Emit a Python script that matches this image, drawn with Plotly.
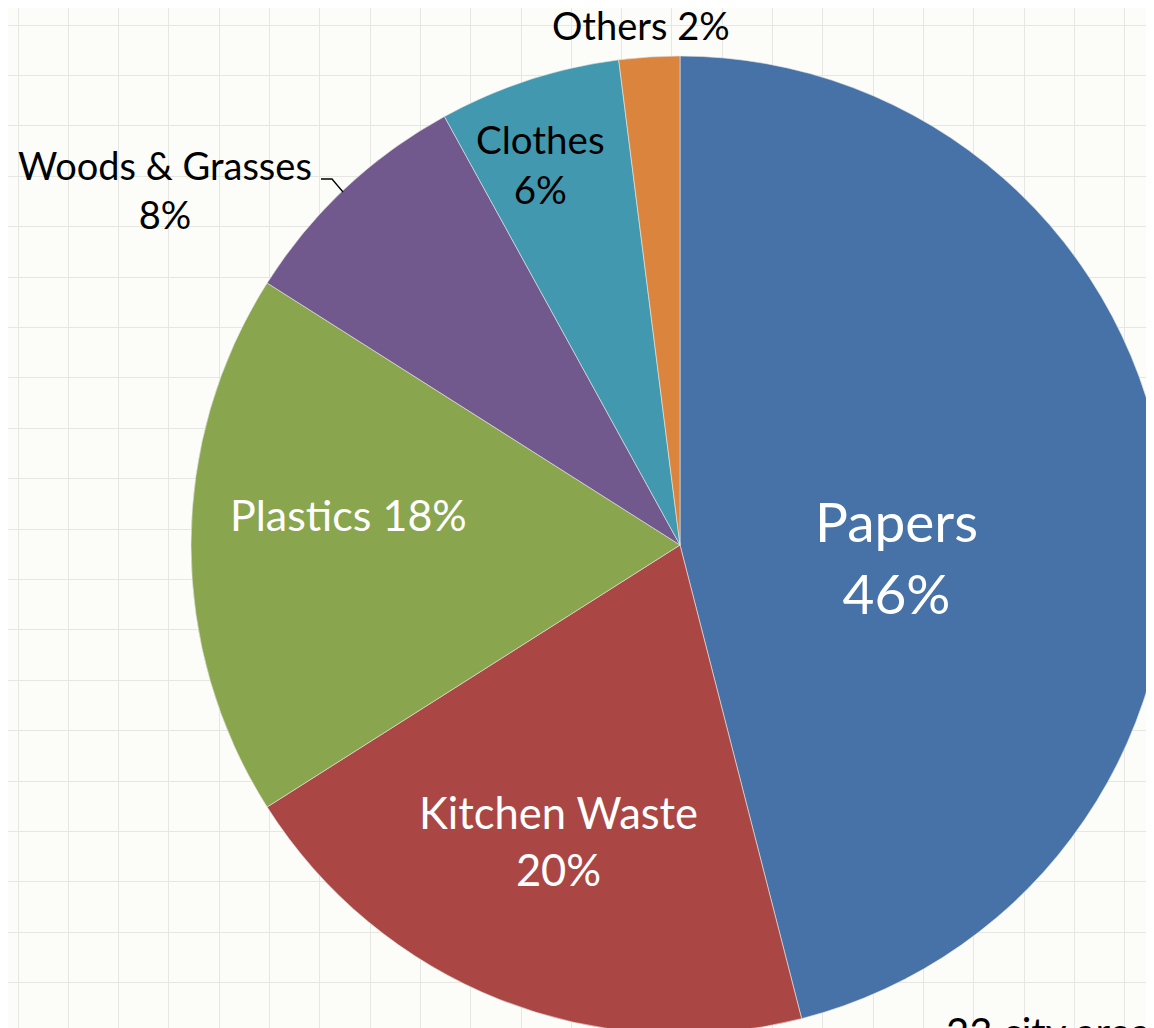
import plotly.graph_objects as go

# ---- data ----
categories = ["Papers", "Kitchen Waste", "Plastics", "Woods & Grasses", "Clothes", "Others"]
shares = [46, 20, 18, 8, 6, 2]
slice_colors = ["#4672A7", "#AA4744", "#89A54E", "#71598D", "#4198AF", "#DB843D"]
corner_note = "23 city area"

# ---- layout constants (pixels, in page/screen coordinates) ----
W, H = 1170, 1040          # figure is slightly larger than the window: the pie runs off the edges
PAGE_OFF = 8               # default page margin around the figure
CX, CY, R = 680, 545, 489  # pie centre / radius on the page
FONT = "Lato, 'Open Sans', sans-serif"

# label placement / style per category: (x px, y px, size, color, joiner)
label_style = {
    "Papers": (896, 557, 55, "white", "<br>"),
    "Kitchen Waste": (558, 840, 43.5, "white", "<br>"),
    "Plastics": (348, 514, 43, "white", " "),
    "Woods & Grasses": (165, 189, 38, "black", "<br>"),
    "Clothes": (540, 164, 38.5, "black", "<br>"),
    "Others": (641, 25, 38, "black", " "),
}

fig = go.Figure()

# invisible cartesian layer that carries the background grid
fig.add_trace(go.Scatter(x=[], y=[], showlegend=False, hoverinfo="skip"))

fx0 = CX - R - PAGE_OFF
fx1 = CX + R - PAGE_OFF
fy_top = CY - R - PAGE_OFF
fy_bot = CY + R - PAGE_OFF
fig.add_trace(go.Pie(
    labels=categories,
    values=shares,
    sort=False,
    direction="clockwise",
    rotation=0,
    marker=dict(colors=slice_colors, line=dict(color="#e8e8e4", width=0.6)),
    textinfo="none",
    hoverinfo="label+percent",
    showlegend=False,
    domain=dict(x=[fx0 / W, fx1 / W], y=[(H - fy_bot) / H, (H - fy_top) / H]),
))

annotations = []
for cat, val in zip(categories, shares):
    x, y, size, color, joiner = label_style[cat]
    annotations.append(dict(
        x=x, y=y, xref="x", yref="y", showarrow=False,
        text=f"{cat}{joiner}{val}%",
        font=dict(family=FONT, size=size, color=color),
        xanchor="center", yanchor="middle", align="center",
    ))

annotations.append(dict(
    x=944, y=1006, xref="x", yref="y", showarrow=False, text=corner_note,
    font=dict(family=FONT, size=40, color="black"), xanchor="left", yanchor="top",
))

fig.update_layout(
    width=W, height=H,
    margin=dict(l=0, r=0, t=0, b=0),
    paper_bgcolor="#fcfcf8",
    plot_bgcolor="#fcfcf8",
    xaxis=dict(range=[PAGE_OFF, PAGE_OFF + W], domain=[0, 1], tick0=18, dtick=50.3, showgrid=True,
               gridcolor="#e6e6e2", gridwidth=1.4, zeroline=False, showticklabels=False,
               ticks="", showline=False, fixedrange=True),
    yaxis=dict(range=[PAGE_OFF + H, PAGE_OFF], domain=[0, 1], tick0=25, dtick=50.4, showgrid=True,
               gridcolor="#e6e6e2", gridwidth=1.4, zeroline=False, showticklabels=False,
               ticks="", showline=False, fixedrange=True),
    annotations=annotations,
    shapes=[dict(type="path", xref="x", yref="y",
                 path="M 321 179 L 332 179 L 343 192",
                 line=dict(color="black", width=1.3))],
)

fig.write_html("out.html")
